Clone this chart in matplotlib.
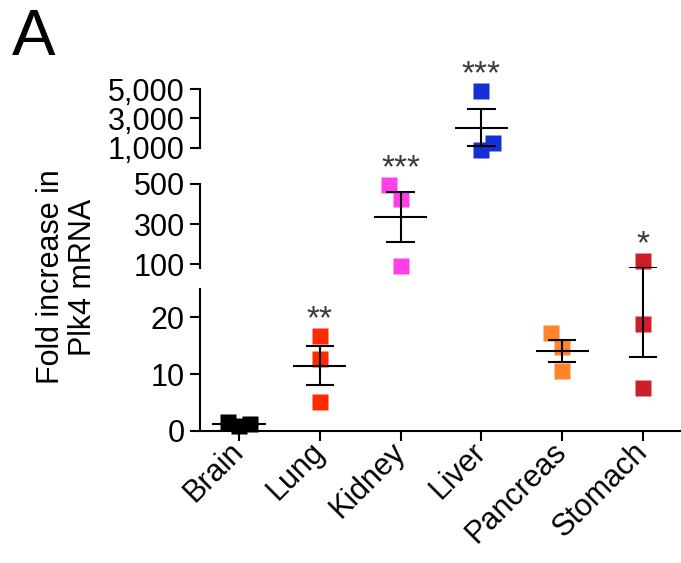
import numpy as np
import matplotlib
matplotlib.use('Agg')
import matplotlib.pyplot as plt
from matplotlib.patches import ConnectionPatch
from matplotlib.ticker import FuncFormatter, FixedLocator

plt.rcParams['font.family'] = ['Liberation Sans', 'DejaVu Sans']

# ---------------- data ----------------
categories = ['Brain', 'Lung', 'Kidney', 'Liver', 'Pancreas', 'Stomach']
brain = [1.5, 0.78, 1.2]
lung = [16.7, 12.6, 5.1]
kidney = [495, 425, 92]
liver = [4880, 1330, 860]
pancreas = [17.2, 14.7, 10.5]
stomach = [117, 18.8, 7.6]
values = [brain, lung, kidney, liver, pancreas, stomach]
jitter = [[-0.14, 0, 0.14], [0, 0, 0], [-0.14, 0, 0],
          [0, 0.14, 0], [-0.14, 0, 0], [0, 0, 0]]
significance = ['', '**', '***', '***', '', '*']
colors = ['#000000', '#FF2B00', '#FF40E6', '#1530D9', '#FF842A', '#CC1F2B']

seg_ranges = [(0, 25), (80, 500), (1000, 5000)]
seg_ticks = [[0, 10, 20], [100, 300, 500], [1000, 3000, 5000]]

# ---------------- figure ----------------
fig = plt.figure(figsize=(6.81, 5.63), dpi=100)
left, width = 0.2937, 0.7048
ax_bot = fig.add_axes([left, 0.2350, width, 0.2517])
ax_mid = fig.add_axes([left, 0.5234, width, 0.1498])
ax_top = fig.add_axes([left, 0.7377, width, 0.1042])
axes = [ax_bot, ax_mid, ax_top]

LW = 1.5
FS = 22
xlim = (-0.483, 5.458)

for i, ax in enumerate(axes):
    ax.set_xlim(*xlim)
    ax.set_ylim(*seg_ranges[i])
    ax.patch.set_alpha(0)
    for s in ['top', 'right']:
        ax.spines[s].set_visible(False)
    ax.spines['left'].set_linewidth(LW)
    ax.yaxis.set_major_locator(FixedLocator(seg_ticks[i]))
    ax.yaxis.set_major_formatter(FuncFormatter(lambda v, p: f'{v:,.0f}'))
    ax.tick_params(axis='y', direction='out', length=7, width=LW,
                   labelsize=FS, pad=4)
    if i == 0:
        ax.spines['bottom'].set_linewidth(LW)
        ax.set_xticks(range(len(categories)))
        ax.set_xticklabels(categories)
        ax.tick_params(axis='x', direction='out', length=7, width=LW,
                       labelsize=FS, pad=5)
        for lab in ax.get_xticklabels():
            lab.set_rotation(45)
            lab.set_ha('right')
            lab.set_va('center')
            lab.set_rotation_mode('anchor')
    else:
        ax.spines['bottom'].set_visible(False)
        ax.set_xticks([])


def seg_of(v):
    for k, (lo, hi) in enumerate(seg_ranges):
        if lo <= v <= hi:
            return k
    return None


def nearest_seg(v):
    d = [0 if lo <= v <= hi else min(abs(v - lo), abs(v - hi))
         for lo, hi in seg_ranges]
    return int(np.argmin(d))


MEAN_HW = 0.33
CAP_HW = 0.175
ms = 11.5

for i, (vals, jit, col, sig) in enumerate(zip(values, jitter, colors, significance)):
    vals = np.asarray(vals, float)
    # points
    for v, j in zip(vals, jit):
        ax = axes[nearest_seg(v)]
        ax.plot(i + j, v, 's', ms=ms, color=col, mec='none',
                clip_on=False, zorder=2)
    m = vals.mean()
    sem = vals.std(ddof=1) / np.sqrt(len(vals))
    lo, hi = m - sem, m + sem
    # mean line
    k = seg_of(m)
    if k is not None:
        axes[k].hlines(m, i - MEAN_HW, i + MEAN_HW, color='black', lw=LW,
                       zorder=3)
    # caps
    for c in (lo, hi):
        k = seg_of(c)
        if k is not None:
            axes[k].hlines(c, i - CAP_HW, i + CAP_HW, color='black', lw=LW,
                           zorder=3)
    # vertical bar
    kl, kh = nearest_seg(lo), nearest_seg(hi)
    if kl == kh:
        axes[kl].vlines(i, lo, hi, color='black', lw=LW, zorder=3)
    else:
        cp = ConnectionPatch(xyA=(i, lo), coordsA=axes[kl].transData,
                             xyB=(i, hi), coordsB=axes[kh].transData,
                             color='black', lw=LW, zorder=3)
        fig.add_artist(cp)
    # significance
    if sig:
        vmax = vals.max()
        ax = axes[nearest_seg(vmax)]
        ax.annotate(sig, (i, vmax), xytext=(0, 5.5), textcoords='offset points',
                    ha='center', va='baseline', fontsize=24, color='#3a3a3a',
                    annotation_clip=False)

fig.text(0.098, 0.508, 'Fold increase in\nPlk4 mRNA', rotation=90,
         ha='center', va='center', multialignment='center', fontsize=FS,
         linespacing=1.1)
fig.text(0.017, 0.903, 'A', fontsize=47, ha='left', va='baseline')

fig.savefig('out.png', dpi=100)
